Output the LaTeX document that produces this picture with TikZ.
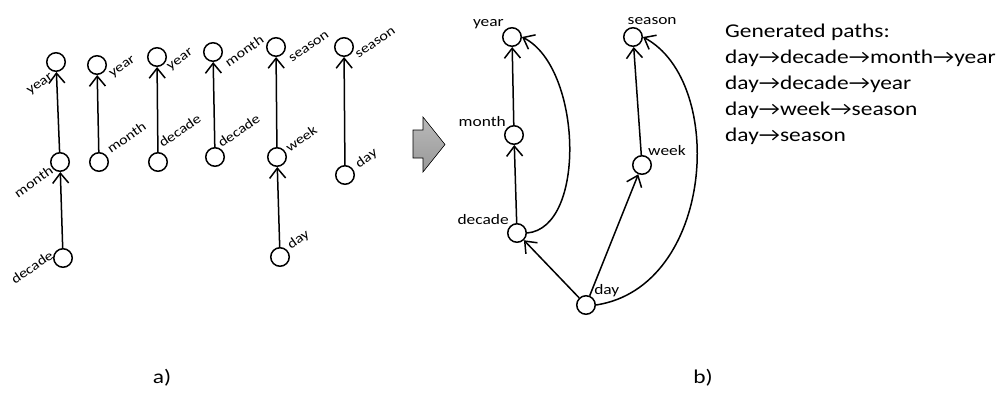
\documentclass[tikz,border=0pt]{standalone}
\usepackage{fontspec}
\setmainfont{Carlito}[FakeStretch=1.2]
\usetikzlibrary{arrows.meta}
\usetikzlibrary{positioning}

\begin{document}
\begin{tikzpicture}
  [x=1pt,y=-1pt,
  vertex/.style={circle,draw=black,fill=white,line width=1.5pt,inner sep=0pt,minimum size=18.5pt},
  edge/.style={line width=1.5pt,-{Straight Barb[length=10pt,width=16pt,line width=1.5pt]}},
  lbl/.style={font=\fontsize{13.5}{15}\selectfont,inner sep=1pt,rotate=35},
  blbl/.style={font=\fontsize{14.5}{16}\selectfont,inner sep=1pt}]
  \useasboundingbox (0,0) rectangle (1005,392);

  % a) the single paths
  \node[vertex,label={[lbl,anchor=east,label distance=5pt]247:year}] (11) at (56,62) {};
  \node[vertex,label={[lbl,anchor=east,label distance=0pt]220:month}] (12) at (60,162) {};
  \node[vertex,label={[lbl,anchor=east,label distance=2pt]149:decade}] (13) at (63,258) {};

  \node[vertex,label={[lbl,anchor=west,label distance=8pt]-56:year}] (21) at (97,65) {};
  \node[vertex,label={[lbl,anchor=west,label distance=5pt]42:month}] (22) at (99,162) {};

  \node[vertex,label={[lbl,anchor=west,label distance=7pt]-62:year}] (31) at (157,57) {};
  \node[vertex,label={[lbl,anchor=west,label distance=8pt]70:decade}] (32) at (158,162) {};

  \node[vertex,label={[lbl,anchor=west,label distance=8pt]-60:month}] (41) at (213,52) {};
  \node[vertex,label={[lbl,anchor=west,label distance=3pt]67:decade}] (42) at (215,157) {};

  \node[vertex,label={[lbl,anchor=west,label distance=10pt]-63:season}] (51) at (276,47) {};
  \node[vertex,label={[lbl,anchor=west,label distance=2pt]35:week}] (52) at (277,157) {};
  \node[vertex,label={[lbl,anchor=west,label distance=3pt]42:day}] (53) at (280,257) {};

  \node[vertex,label={[lbl,anchor=west,label distance=6pt]-52:season}] (61) at (344,47) {};
  \node[vertex,label={[lbl,anchor=west,label distance=5pt]28:day}] (62) at (345,175) {};

  \draw[edge] (12) -- (11);
  \draw[edge] (13) -- (12);
  \draw[edge] (22) -- (21);
  \draw[edge] (32) -- (31);
  \draw[edge] (42) -- (41);
  \draw[edge] (52) -- (51);
  \draw[edge] (53) -- (52);
  \draw[edge] (62) -- (61);

  % grey arrow
  \draw[draw=black,line width=0.6pt,top color=gray!55,bottom color=gray!80]
    (413,130) -- (423,130) -- (423,117) -- (445,144.5) -- (423,172) -- (423,158) -- (413,158) -- cycle;

  % b) the merged graph
  \node[vertex,label={[blbl,anchor=south east,label distance=0pt]135:year}] (year) at (512,37) {};
  \node[vertex,label={[blbl,anchor=south east,label distance=0pt]135:month}] (month) at (514,135) {};
  \node[vertex,label={[blbl,anchor=south east,label distance=0pt]135:decade}] (decade) at (517,233) {};
  \node[vertex,label={[blbl,anchor=south west,label distance=0pt]45:day}] (day) at (586,305) {};
  \node[vertex,label={[blbl,anchor=south west,label distance=0pt]60:week}] (week) at (642,165) {};
  \node[vertex,label={[blbl,anchor=south west,label distance=3pt]120:season}] (season) at (633,37) {};

  \draw[edge] (month) -- (year);
  \draw[edge] (decade) -- (month);
  \draw[edge] (day) -- (decade);
  \draw[edge] (day) -- (week);
  \draw[edge] (week) -- (season);
  \draw[edge] (decade.east) .. controls +(60,-5) and +(60,30) .. (year.east);
  \draw[edge] (day.east) .. controls +(118,-18) and +(84,45) .. (season.east);

  \node[anchor=north west,align=left,inner sep=0pt,font=\fontsize{19.5}{26}\selectfont] (paths) at (725,23.5)
    {Generated paths:\\day→decade→month→year\\day→decade→year\\day→week→season\\day→season};

  \node[font=\fontsize{19.5}{22}\selectfont] (capa) at (162,378) {a)};
  \node[font=\fontsize{19.5}{22}\selectfont] (capb) at (703,378) {b)};
\end{tikzpicture}
\end{document}
